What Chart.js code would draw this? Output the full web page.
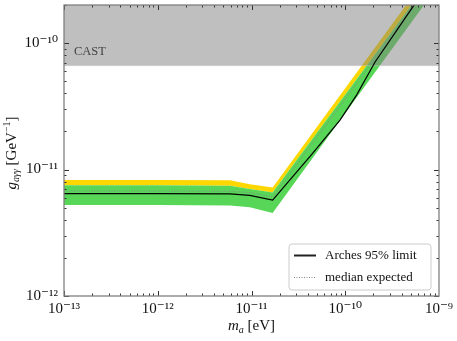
<!DOCTYPE html>
<html>
<head>
<meta charset="utf-8">
<script src="https://cdn.jsdelivr.net/npm/chart.js@4"></script>
<style>
  html, body { margin: 0; padding: 0; background: #fff; }
  #wrap { width: 457px; height: 341px; position: relative; }
</style>
</head>
<body>
<div id="wrap"><canvas id="c" width="457" height="341"></canvas></div>
<script>
// ---- data ----
const bandMass    = [1e-13, 1e-12, 5.9e-12, 9.6e-12, 1.68e-11, 1e-9];
const yellowUpper = [8.26e-12, 8.26e-12, 8.22e-12, 7.64e-12, 7.2e-12, 4.54e-10];
const greenUpper  = [7.5e-12, 7.5e-12, 7.45e-12, 7.01e-12, 6.58e-12, 3.92e-10];
const greenLower  = [5.24e-12, 5.24e-12, 5.2e-12, 5.03e-12, 4.53e-12, 2.91e-10];
const medianExp   = [6.76e-12, 6.76e-12, 6.72e-12, 6.58e-12, 6.06e-12, 3.6e-10];

const limitMass = [1e-13, 1e-12, 5.9e-12, 9.6e-12, 1.68e-11, 4.39e-11, 8.79e-11, 1.32e-10, 2.08e-10, 5.28e-10, 1e-9];
const limitG    = [6.45e-12, 6.45e-12, 6.42e-12, 6.25e-12, 5.74e-12, 1.32e-11, 2.46e-11, 3.88e-11, 7.08e-11, 1.94e-10, 3.76e-10];

const castMass  = [1e-13, 1e-9];
const castLimit = 6.62e-11;
const castLabel = 'CAST';

const xTicks = [1e-13, 1e-12, 1e-11, 1e-10, 1e-9];
const yTicks = [1e-12, 1e-11, 1e-10];
const xRange = [1e-13, 1e-9];
const yRange = [1e-12, 2e-10];

const legendLabels = ['Arches 95% limit', 'median expected'];

// ---- helpers ----
const pts = (xs, ys) => xs.map((v, i) => ({ x: v, y: ys[i] }));
const SUP = { '0':'⁰','1':'¹','2':'²','3':'³','4':'⁴','5':'⁵','6':'⁶','7':'⁷','8':'⁸','9':'⁹','-':'⁻' };
const pow10Label = v => { const e = Math.round(Math.log10(v)); return '10' + String(e).split('').map(c => SUP[c]).join(''); };
const SERIF = '"Liberation Serif", "DejaVu Serif", serif';

const decor = {
  id: 'decor',
  afterDatasetsDraw(chart) {
    const { ctx, chartArea: a, scales: { x, y } } = chart;
    ctx.save();
    // CAST label
    ctx.font = '12.5px ' + SERIF;
    ctx.fillStyle = '#444';
    ctx.textBaseline = 'middle';
    ctx.textAlign = 'left';
    ctx.fillText(castLabel, a.left + 10, y.getPixelForValue(castLimit) - 14);

    // inward ticks on all four sides
    ctx.strokeStyle = '#333';
    ctx.lineWidth = 1;
    ctx.beginPath();
    for (let e = -13; e < -9; e++) {
      for (let k = 1; k <= 9; k++) {
        const v = k * Math.pow(10, e);
        const px = Math.round(x.getPixelForValue(v)) + 0.5;
        const L = k === 1 ? 5 : 2.5;
        ctx.moveTo(px, a.bottom); ctx.lineTo(px, a.bottom - L);
        ctx.moveTo(px, a.top); ctx.lineTo(px, a.top + L);
      }
    }
    for (let e = -12; e <= -10; e++) {
      for (let k = 1; k <= 9; k++) {
        const v = k * Math.pow(10, e);
        if (v > yRange[1] * 1.0001) continue;
        const py = Math.round(y.getPixelForValue(v)) + 0.5;
        const L = k === 1 ? 5 : 2.5;
        ctx.moveTo(a.left, py); ctx.lineTo(a.left + L, py);
        ctx.moveTo(a.right, py); ctx.lineTo(a.right - L, py);
      }
    }
    ctx.stroke();

    // frame
    ctx.strokeStyle = '#808080';
    ctx.lineWidth = 1.3;
    ctx.strokeRect(a.left, a.top, a.right - a.left, a.bottom - a.top);

    // legend
    const bx = a.left + 225, by = a.bottom - 52, bw = 142, bh = 46;
    ctx.beginPath();
    if (ctx.roundRect) ctx.roundRect(bx, by, bw, bh, 3); else ctx.rect(bx, by, bw, bh);
    ctx.fillStyle = 'rgba(255,255,255,0.85)';
    ctx.fill();
    ctx.strokeStyle = '#cccccc';
    ctx.lineWidth = 1;
    ctx.stroke();
    const ds = chart.data.datasets;
    const rows = [ds[0], ds[1]];
    rows.forEach((d, i) => {
      const ry = by + 11.5 + i * 22;
      ctx.save();
      ctx.strokeStyle = i === 0 ? '#222' : d.borderColor;
      ctx.lineWidth = i === 0 ? 2 : 1;
      ctx.setLineDash(d.borderDash || []);
      ctx.beginPath(); ctx.moveTo(bx + 5, ry); ctx.lineTo(bx + 27, ry); ctx.stroke();
      ctx.restore();
      ctx.font = '13px ' + SERIF;
      ctx.fillStyle = '#111';
      ctx.textAlign = 'left';
      ctx.textBaseline = 'middle';
      ctx.fillText(d.label, bx + 36, ry);
    });

    // x axis title: m_a [eV]
    const drawPieces = (pieces, cx, cy) => {
      let w = 0;
      pieces.forEach(p => { ctx.font = p.f; w += ctx.measureText(p.t).width; });
      let cur = cx - w / 2;
      pieces.forEach(p => {
        ctx.font = p.f;
        ctx.fillText(p.t, cur, cy + (p.dy || 0));
        cur += ctx.measureText(p.t).width;
      });
    };
    ctx.fillStyle = '#111';
    ctx.textAlign = 'left';
    ctx.textBaseline = 'alphabetic';
    drawPieces([
      { t: 'm', f: 'italic 15px ' + SERIF },
      { t: 'a', f: 'italic 10px ' + SERIF, dy: 3 },
      { t: ' [eV]', f: '15px ' + SERIF }
    ], (a.left + a.right) / 2, 330);

    // y axis title: g_aγγ [GeV^-1]
    ctx.save();
    ctx.translate(16, 153);
    ctx.rotate(-Math.PI / 2);
    drawPieces([
      { t: 'g', f: 'italic 15px ' + SERIF },
      { t: 'aγγ', f: 'italic 10px ' + SERIF, dy: 3 },
      { t: ' [GeV', f: '15px ' + SERIF },
      { t: '−1', f: '10px ' + SERIF, dy: -6 },
      { t: ']', f: '15px ' + SERIF }
    ], 0, 0);
    ctx.restore();

    ctx.restore();
  }
};

new Chart(document.getElementById('c'), {
  type: 'line',
  data: {
    datasets: [
      { label: legendLabels[0], data: pts(limitMass, limitG), borderColor: '#000', borderWidth: 1.2, pointRadius: 0, fill: false },
      { label: legendLabels[1], data: pts(bandMass, medianExp), borderColor: '#888', borderWidth: 1, borderDash: [1, 1.5], pointRadius: 0, fill: false },
      { label: 'CAST', data: pts(castMass, castMass.map(() => castLimit)), borderColor: 'rgba(200,200,200,0.6)', borderWidth: 0.8, pointRadius: 0, fill: 'end', backgroundColor: 'rgba(128,128,128,0.5)' },
      { label: 'green lower', data: pts(bandMass, greenLower), borderWidth: 0, borderColor: 'rgba(0,0,0,0)', pointRadius: 0, fill: false },
      { label: 'green upper', data: pts(bandMass, greenUpper), borderWidth: 0, borderColor: 'rgba(0,0,0,0)', pointRadius: 0, fill: 3, backgroundColor: 'rgb(88,214,88)' },
      { label: 'yellow upper', data: pts(bandMass, yellowUpper), borderWidth: 0, borderColor: 'rgba(0,0,0,0)', pointRadius: 0, fill: 4, backgroundColor: 'rgb(255,215,0)' }
    ]
  },
  options: {
    responsive: false,
    animation: false,
    devicePixelRatio: 1,
    layout: { padding: { top: 5, right: 18, left: 0, bottom: 0 } },
    plugins: { legend: { display: false }, tooltip: { enabled: false } },
    scales: {
      x: {
        type: 'logarithmic', min: xRange[0], max: xRange[1],
        grid: { display: false, drawTicks: false },
        border: { display: false },
        afterBuildTicks: s => { s.ticks = xTicks.map(v => ({ value: v })); },
        afterFit: s => { s.height = 45; s.paddingLeft = 0; s.paddingRight = 0; s.paddingTop = 0; s.paddingBottom = 0; },
        ticks: { autoSkip: false, maxRotation: 0, padding: 4, color: '#111', font: { family: SERIF, size: 15 }, callback: v => pow10Label(v) }
      },
      y: {
        type: 'logarithmic', min: yRange[0], max: yRange[1],
        grid: { display: false, drawTicks: false },
        border: { display: false },
        afterBuildTicks: s => { s.ticks = yTicks.map(v => ({ value: v })); },
        afterFit: s => { s.width = 64; s.paddingTop = 0; s.paddingBottom = 0; s.paddingLeft = 0; s.paddingRight = 0; },
        ticks: { autoSkip: false, padding: 6, color: '#111', font: { family: SERIF, size: 15 }, callback: v => pow10Label(v) }
      }
    }
  },
  plugins: [decor]
});
</script>
</body>
</html>
